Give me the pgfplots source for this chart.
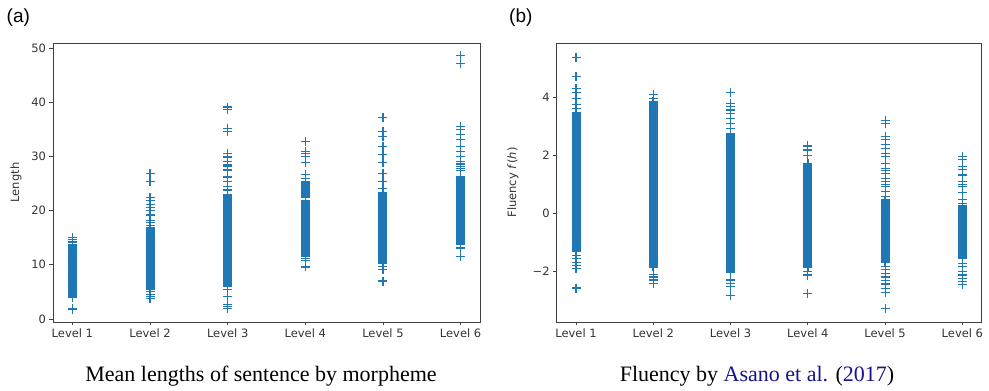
\documentclass[border=0pt]{standalone}
\usepackage{fontspec}
\setmainfont{Liberation Serif}
\newfontfamily\dejavu{DejaVu Sans}
\newfontfamily\arialf{Liberation Sans}
\usepackage{pgfplots}
\pgfplotsset{compat=1.18}
\definecolor{mplblue}{RGB}{31,119,180}
\definecolor{citeblue}{RGB}{20,20,140}
\pgfplotsset{
 panel/.style={
  scale only axis, height=279pt,
  xmin=-0.25, xmax=5.25,
  xtick={0,1,2,3,4,5},
  xticklabels={Level 1,Level 2,Level 3,Level 4,Level 5,Level 6},
  tick align=outside, tick pos=left,
  major tick length=3.5pt,
  axis line style={black!75, line width=0.8pt},
  every tick/.style={black!75, line width=0.8pt},
  ticklabel style={font=\dejavu\fontsize{11.5}{13}\selectfont, text=black!80},
  label style={font=\dejavu\fontsize{11.5}{13}\selectfont, text=black!80},
  /pgf/number format/assume math mode=true,
 },
 pts/.style={only marks, mark=+, mark size=4.5pt, color=mplblue, draw=mplblue,
   mark options={draw=mplblue, solid, line width=1.15pt}},
 ptsd/.style={only marks, mark=+, mark size=4.5pt, color=mplblue, draw=mplblue,
   mark options={draw=mplblue, solid, line width=1.6pt}},
}
\begin{document}
\begin{tikzpicture}[x=1pt,y=1pt]
\useasboundingbox (0,0) rectangle (989,391);
% ---------------- panel (a)
\begin{axis}[panel, at={(53pt,69pt)}, anchor=south west, width=427pt,
  ymin=-0.55, ymax=50.92, ytick={0,10,20,30,40,50},
  ylabel={Length},
  ylabel style={at={(axis description cs:-0.087,0.5)}, anchor=center}]
\addplot[pts] coordinates {
(0,1.8)(0,2.0)
(0,4.0)(0,4.2)(0,4.4)(0,4.6)(0,4.8)(0,5.0)(0,5.2)(0,5.4)(0,5.6)(0,5.8)
(0,6.0)(0,6.2)(0,6.4)(0,6.6)(0,6.8)(0,7.0)(0,7.2)(0,7.4)(0,7.6)(0,7.8)
(0,8.0)(0,8.2)(0,8.4)(0,8.6)(0,8.8)(0,9.0)(0,9.2)(0,9.4)(0,9.6)(0,9.8)
(0,10.0)(0,10.2)(0,10.4)(0,10.6)(0,10.8)(0,11.0)(0,11.2)(0,11.4)(0,11.6)(0,11.8)
(0,12.0)(0,12.2)(0,12.4)(0,12.6)(0,12.8)(0,13.0)(0,13.2)(0,13.4)(0,13.6)(0,13.8)
(0,14.2)(0,14.6)(0,15.0)
};
\addplot[pts] coordinates {
(1,3.8)(1,4.2)(1,4.6)(1,5.0)
(1,5.4)(1,5.6)(1,5.8)
(1,6.0)(1,6.2)(1,6.4)(1,6.6)(1,6.8)(1,7.0)(1,7.2)(1,7.4)(1,7.6)(1,7.8)
(1,8.0)(1,8.2)(1,8.4)(1,8.6)(1,8.8)(1,9.0)(1,9.2)(1,9.4)(1,9.6)(1,9.8)
(1,10.0)(1,10.2)(1,10.4)(1,10.6)(1,10.8)(1,11.0)(1,11.2)(1,11.4)(1,11.6)(1,11.8)
(1,12.0)(1,12.2)(1,12.4)(1,12.6)(1,12.8)(1,13.0)(1,13.2)(1,13.4)(1,13.6)(1,13.8)
(1,14.0)(1,14.2)(1,14.4)(1,14.6)(1,14.8)(1,15.0)(1,15.2)(1,15.4)(1,15.6)(1,15.8)
(1,16.0)(1,16.2)(1,16.4)(1,16.6)(1,16.8)
(1,17.2)(1,17.8)(1,18.2)(1,19.2)(1,20.0)(1,20.6)(1,21.2)(1,21.8)(1,22.4)(1,25.4)(1,26.8)
};
\addplot[pts] coordinates {
(2,2.0)(2,2.3)(2,2.6)(2,4.1)(2,5.4)
(2,6.0)(2,6.2)(2,6.4)(2,6.6)(2,6.8)(2,7.0)(2,7.2)(2,7.4)(2,7.6)(2,7.8)
(2,8.0)(2,8.2)(2,8.4)(2,8.6)(2,8.8)(2,9.0)(2,9.2)(2,9.4)(2,9.6)(2,9.8)
(2,10.0)(2,10.2)(2,10.4)(2,10.6)(2,10.8)(2,11.0)(2,11.2)(2,11.4)(2,11.6)(2,11.8)
(2,12.0)(2,12.2)(2,12.4)(2,12.6)(2,12.8)(2,13.0)(2,13.2)(2,13.4)(2,13.6)(2,13.8)
(2,14.0)(2,14.2)(2,14.4)(2,14.6)(2,14.8)(2,15.0)(2,15.2)(2,15.4)(2,15.6)(2,15.8)
(2,16.0)(2,16.2)(2,16.4)(2,16.6)(2,16.8)(2,17.0)(2,17.2)(2,17.4)(2,17.6)(2,17.8)
(2,18.0)(2,18.2)(2,18.4)(2,18.6)(2,18.8)(2,19.0)(2,19.2)(2,19.4)(2,19.6)(2,19.8)
(2,20.0)(2,20.2)(2,20.4)(2,20.6)(2,20.8)(2,21.0)(2,21.2)(2,21.4)(2,21.6)(2,21.8)
(2,22.0)(2,22.2)(2,22.4)(2,22.6)(2,22.8)(2,23.0)
(2,23.8)(2,24.4)(2,25.3)(2,26.2)(2,27.5)(2,28.2)(2,28.4)(2,29.0)(2,29.9)(2,30.6)
(2,34.6)(2,35.2)(2,38.6)(2,39.1)
};
\addplot[pts] coordinates {
(3,9.6)(3,10.8)(3,11.2)
(3,11.6)(3,11.8)
(3,12.0)(3,12.2)(3,12.4)(3,12.6)(3,12.8)(3,13.0)(3,13.2)(3,13.4)(3,13.6)(3,13.8)
(3,14.0)(3,14.2)(3,14.4)(3,14.6)(3,14.8)(3,15.0)(3,15.2)(3,15.4)(3,15.6)(3,15.8)
(3,16.0)(3,16.2)(3,16.4)(3,16.6)(3,16.8)(3,17.0)(3,17.2)(3,17.4)(3,17.6)(3,17.8)
(3,18.0)(3,18.2)(3,18.4)(3,18.6)(3,18.8)(3,19.0)(3,19.2)(3,19.4)(3,19.6)(3,19.8)
(3,20.0)(3,20.2)(3,20.4)(3,20.6)(3,20.8)(3,21.0)(3,21.2)(3,21.4)(3,21.6)(3,21.8)
(3,22.4)(3,22.6)(3,22.8)(3,23.0)(3,23.2)(3,23.4)(3,23.6)(3,23.8)
(3,24.0)(3,24.2)(3,24.4)(3,24.6)(3,24.8)(3,25.0)(3,25.2)(3,25.4)
(3,26.0)(3,26.6)(3,28.8)(3,30.0)(3,30.6)(3,30.9)(3,32.7)
};
\addplot[pts] coordinates {
(4,7.0)(4,9.1)(4,9.7)
(4,10.2)(4,10.4)(4,10.6)(4,10.8)(4,11.0)(4,11.2)(4,11.4)(4,11.6)(4,11.8)
(4,12.0)(4,12.2)(4,12.4)(4,12.6)(4,12.8)(4,13.0)(4,13.2)(4,13.4)(4,13.6)(4,13.8)
(4,14.0)(4,14.2)(4,14.4)(4,14.6)(4,14.8)(4,15.0)(4,15.2)(4,15.4)(4,15.6)(4,15.8)
(4,16.0)(4,16.2)(4,16.4)(4,16.6)(4,16.8)(4,17.0)(4,17.2)(4,17.4)(4,17.6)(4,17.8)
(4,18.0)(4,18.2)(4,18.4)(4,18.6)(4,18.8)(4,19.0)(4,19.2)(4,19.4)(4,19.6)(4,19.8)
(4,20.0)(4,20.2)(4,20.4)(4,20.6)(4,20.8)(4,21.0)(4,21.2)(4,21.4)(4,21.6)(4,21.8)
(4,22.0)(4,22.2)(4,22.4)(4,22.6)(4,22.8)(4,23.0)(4,23.2)(4,23.4)
(4,24.1)(4,25.4)(4,26.9)(4,28.9)(4,30.3)(4,31.8)(4,33.7)(4,34.6)(4,37.1)
};
\addplot[pts] coordinates {
(5,11.6)(5,13.1)
(5,13.8)
(5,14.0)(5,14.2)(5,14.4)(5,14.6)(5,14.8)(5,15.0)(5,15.2)(5,15.4)(5,15.6)(5,15.8)
(5,16.0)(5,16.2)(5,16.4)(5,16.6)(5,16.8)(5,17.0)(5,17.2)(5,17.4)(5,17.6)(5,17.8)
(5,18.0)(5,18.2)(5,18.4)(5,18.6)(5,18.8)(5,19.0)(5,19.2)(5,19.4)(5,19.6)(5,19.8)
(5,20.0)(5,20.2)(5,20.4)(5,20.6)(5,20.8)(5,21.0)(5,21.2)(5,21.4)(5,21.6)(5,21.8)
(5,22.0)(5,22.2)(5,22.4)(5,22.6)(5,22.8)(5,23.0)(5,23.2)(5,23.4)(5,23.6)(5,23.8)
(5,24.0)(5,24.2)(5,24.4)(5,24.6)(5,24.8)(5,25.0)(5,25.2)(5,25.4)(5,25.6)(5,25.8)
(5,26.0)(5,26.2)
(5,27.4)(5,27.8)(5,28.2)(5,28.6)(5,29.0)(5,30.0)(5,30.9)(5,31.8)(5,33.1)(5,34.0)
(5,34.9)(5,35.5)(5,47.2)(5,48.6)
};
\end{axis}
% ---------------- panel (b)
\begin{axis}[panel, at={(556.7pt,69pt)}, anchor=south west, width=425pt,
  ymin=-3.75, ymax=5.87, ytick={-2,0,2,4}, yticklabels={−2,0,2,4},
  ylabel={Fluency \textit{f}(\textit{h})},
  ylabel style={at={(axis description cs:-0.103,0.5)}, anchor=center}]
% Level 1
\addplot[pts] coordinates {
(0,-2.58)(0,-1.9)(0,-1.8)(0,-1.7)(0,-1.55)(0,-1.45)
(0,3.6)(0,3.75)(0,3.95)(0,4.15)(0,4.3)(0,4.72)(0,5.38)
};
\addplot[ptsd] coordinates {
(0,-1.30)(0,-1.25)(0,-1.20)(0,-1.15)(0,-1.10)(0,-1.05)
(0,-1.00)(0,-0.95)(0,-0.90)(0,-0.85)(0,-0.80)(0,-0.75)(0,-0.70)(0,-0.65)(0,-0.60)(0,-0.55)
(0,-0.50)(0,-0.45)(0,-0.40)(0,-0.35)(0,-0.30)(0,-0.25)(0,-0.20)(0,-0.15)(0,-0.10)(0,-0.05)
(0,0.00)(0,0.05)(0,0.10)(0,0.15)(0,0.20)(0,0.25)(0,0.30)(0,0.35)(0,0.40)(0,0.45)
(0,0.50)(0,0.55)(0,0.60)(0,0.65)(0,0.70)(0,0.75)(0,0.80)(0,0.85)(0,0.90)(0,0.95)
(0,1.00)(0,1.05)(0,1.10)(0,1.15)(0,1.20)(0,1.25)(0,1.30)(0,1.35)(0,1.40)(0,1.45)
(0,1.50)(0,1.55)(0,1.60)(0,1.65)(0,1.70)(0,1.75)(0,1.80)(0,1.85)(0,1.90)(0,1.95)
(0,2.00)(0,2.05)(0,2.10)(0,2.15)(0,2.20)(0,2.25)(0,2.30)(0,2.35)(0,2.40)(0,2.45)
(0,2.50)(0,2.55)(0,2.60)(0,2.65)(0,2.70)(0,2.75)(0,2.80)(0,2.85)(0,2.90)(0,2.95)
(0,3.00)(0,3.05)(0,3.10)(0,3.15)(0,3.20)(0,3.25)(0,3.30)(0,3.35)(0,3.40)(0,3.45)
};
% Level 2
\addplot[pts] coordinates {
(1,-2.41)(1,-2.3)(1,-2.2)(1,-2.1)(1,3.97)(1,4.08)
};
\addplot[ptsd] coordinates {
(1,-1.85)(1,-1.80)(1,-1.75)(1,-1.70)(1,-1.65)(1,-1.60)(1,-1.55)
(1,-1.50)(1,-1.45)(1,-1.40)(1,-1.35)(1,-1.30)(1,-1.25)(1,-1.20)(1,-1.15)(1,-1.10)(1,-1.05)
(1,-1.00)(1,-0.95)(1,-0.90)(1,-0.85)(1,-0.80)(1,-0.75)(1,-0.70)(1,-0.65)(1,-0.60)(1,-0.55)
(1,-0.50)(1,-0.45)(1,-0.40)(1,-0.35)(1,-0.30)(1,-0.25)(1,-0.20)(1,-0.15)(1,-0.10)(1,-0.05)
(1,0.00)(1,0.05)(1,0.10)(1,0.15)(1,0.20)(1,0.25)(1,0.30)(1,0.35)(1,0.40)(1,0.45)
(1,0.50)(1,0.55)(1,0.60)(1,0.65)(1,0.70)(1,0.75)(1,0.80)(1,0.85)(1,0.90)(1,0.95)
(1,1.00)(1,1.05)(1,1.10)(1,1.15)(1,1.20)(1,1.25)(1,1.30)(1,1.35)(1,1.40)(1,1.45)
(1,1.50)(1,1.55)(1,1.60)(1,1.65)(1,1.70)(1,1.75)(1,1.80)(1,1.85)(1,1.90)(1,1.95)
(1,2.00)(1,2.05)(1,2.10)(1,2.15)(1,2.20)(1,2.25)(1,2.30)(1,2.35)(1,2.40)(1,2.45)
(1,2.50)(1,2.55)(1,2.60)(1,2.65)(1,2.70)(1,2.75)(1,2.80)(1,2.85)(1,2.90)(1,2.95)
(1,3.00)(1,3.05)(1,3.10)(1,3.15)(1,3.20)(1,3.25)(1,3.30)(1,3.35)(1,3.40)(1,3.45)
(1,3.50)(1,3.55)(1,3.60)(1,3.65)(1,3.70)(1,3.75)(1,3.80)(1,3.85)
};
% Level 3
\addplot[pts] coordinates {
(2,-2.85)(2,-2.53)(2,-2.41)(2,-2.3)
(2,2.93)(2,3.1)(2,3.28)(2,3.45)(2,3.56)(2,3.68)(2,3.79)(2,4.16)
};
\addplot[ptsd] coordinates {
(2,-2.05)(2,-2.00)(2,-1.95)(2,-1.90)(2,-1.85)(2,-1.80)(2,-1.75)(2,-1.70)(2,-1.65)(2,-1.60)(2,-1.55)
(2,-1.50)(2,-1.45)(2,-1.40)(2,-1.35)(2,-1.30)(2,-1.25)(2,-1.20)(2,-1.15)(2,-1.10)(2,-1.05)
(2,-1.00)(2,-0.95)(2,-0.90)(2,-0.85)(2,-0.80)(2,-0.75)(2,-0.70)(2,-0.65)(2,-0.60)(2,-0.55)
(2,-0.50)(2,-0.45)(2,-0.40)(2,-0.35)(2,-0.30)(2,-0.25)(2,-0.20)(2,-0.15)(2,-0.10)(2,-0.05)
(2,0.00)(2,0.05)(2,0.10)(2,0.15)(2,0.20)(2,0.25)(2,0.30)(2,0.35)(2,0.40)(2,0.45)
(2,0.50)(2,0.55)(2,0.60)(2,0.65)(2,0.70)(2,0.75)(2,0.80)(2,0.85)(2,0.90)(2,0.95)
(2,1.00)(2,1.05)(2,1.10)(2,1.15)(2,1.20)(2,1.25)(2,1.30)(2,1.35)(2,1.40)(2,1.45)
(2,1.50)(2,1.55)(2,1.60)(2,1.65)(2,1.70)(2,1.75)(2,1.80)(2,1.85)(2,1.90)(2,1.95)
(2,2.00)(2,2.05)(2,2.10)(2,2.15)(2,2.20)(2,2.25)(2,2.30)(2,2.35)(2,2.40)(2,2.45)
(2,2.50)(2,2.55)(2,2.60)(2,2.65)(2,2.70)(2,2.75)
};
% Level 4
\addplot[pts] coordinates {
(3,-2.76)(3,-2.13)(3,-2.0)(3,1.98)(3,2.18)(3,2.32)
};
\addplot[ptsd] coordinates {
(3,-1.85)(3,-1.80)(3,-1.75)(3,-1.70)(3,-1.65)(3,-1.60)(3,-1.55)
(3,-1.50)(3,-1.45)(3,-1.40)(3,-1.35)(3,-1.30)(3,-1.25)(3,-1.20)(3,-1.15)(3,-1.10)(3,-1.05)
(3,-1.00)(3,-0.95)(3,-0.90)(3,-0.85)(3,-0.80)(3,-0.75)(3,-0.70)(3,-0.65)(3,-0.60)(3,-0.55)
(3,-0.50)(3,-0.45)(3,-0.40)(3,-0.35)(3,-0.30)(3,-0.25)(3,-0.20)(3,-0.15)(3,-0.10)(3,-0.05)
(3,0.00)(3,0.05)(3,0.10)(3,0.15)(3,0.20)(3,0.25)(3,0.30)(3,0.35)(3,0.40)(3,0.45)
(3,0.50)(3,0.55)(3,0.60)(3,0.65)(3,0.70)(3,0.75)(3,0.80)(3,0.85)(3,0.90)(3,0.95)
(3,1.00)(3,1.05)(3,1.10)(3,1.15)(3,1.20)(3,1.25)(3,1.30)(3,1.35)(3,1.40)(3,1.45)
(3,1.50)(3,1.55)(3,1.60)(3,1.65)(3,1.70)
};
% Level 5
\addplot[pts] coordinates {
(4,-3.28)(4,-2.74)(4,-2.59)(4,-2.44)(4,-2.32)(4,-2.2)(4,-2.07)(4,-1.95)(4,-1.84)
(4,0.57)(4,0.75)(4,0.92)(4,1.0)(4,1.1)(4,1.2)(4,1.38)(4,1.47)(4,1.55)(4,1.72)
(4,1.95)(4,2.07)(4,2.24)(4,2.36)(4,2.53)(4,2.64)(4,3.08)(4,3.2)
};
\addplot[ptsd] coordinates {
(4,-1.70)(4,-1.65)(4,-1.60)(4,-1.55)
(4,-1.50)(4,-1.45)(4,-1.40)(4,-1.35)(4,-1.30)(4,-1.25)(4,-1.20)(4,-1.15)(4,-1.10)(4,-1.05)
(4,-1.00)(4,-0.95)(4,-0.90)(4,-0.85)(4,-0.80)(4,-0.75)(4,-0.70)(4,-0.65)(4,-0.60)(4,-0.55)
(4,-0.50)(4,-0.45)(4,-0.40)(4,-0.35)(4,-0.30)(4,-0.25)(4,-0.20)(4,-0.15)(4,-0.10)(4,-0.05)
(4,0.00)(4,0.05)(4,0.10)(4,0.15)(4,0.20)(4,0.25)(4,0.30)(4,0.35)(4,0.40)(4,0.45)
};
% Level 6
\addplot[pts] coordinates {
(5,-2.47)(5,-2.36)(5,-2.24)(5,-2.13)(5,-2.01)(5,-1.84)(5,-1.72)
(5,0.34)(5,0.46)(5,0.71)(5,0.92)(5,1.0)(5,1.09)(5,1.32)(5,1.5)(5,1.61)(5,1.84)(5,1.95)
};
\addplot[ptsd] coordinates {
(5,-1.55)
(5,-1.50)(5,-1.45)(5,-1.40)(5,-1.35)(5,-1.30)(5,-1.25)(5,-1.20)(5,-1.15)(5,-1.10)(5,-1.05)
(5,-1.00)(5,-0.95)(5,-0.90)(5,-0.85)(5,-0.80)(5,-0.75)(5,-0.70)(5,-0.65)(5,-0.60)(5,-0.55)
(5,-0.50)(5,-0.45)(5,-0.40)(5,-0.35)(5,-0.30)(5,-0.25)(5,-0.20)(5,-0.15)(5,-0.10)(5,-0.05)
(5,0.00)(5,0.05)(5,0.10)(5,0.15)(5,0.20)(5,0.25)
};
\end{axis}
% ---------------- panel letters and captions
\node[anchor=base west, inner sep=0pt] at (6.5,368) {\arialf\fontsize{19}{22}\selectfont (a)};
\node[anchor=base west, inner sep=0pt] at (509,368) {\arialf\fontsize{19}{22}\selectfont (b)};
\node[anchor=base, inner sep=0pt] at (261,9.5) {\fontsize{22}{26}\selectfont Mean lengths of sentence by morpheme};
\node[anchor=base, inner sep=0pt] at (757,9.5) {\fontsize{22}{26}\selectfont Fluency by \textcolor{citeblue}{Asano et al.} (\textcolor{citeblue}{2017})};
\end{tikzpicture}
\end{document}
